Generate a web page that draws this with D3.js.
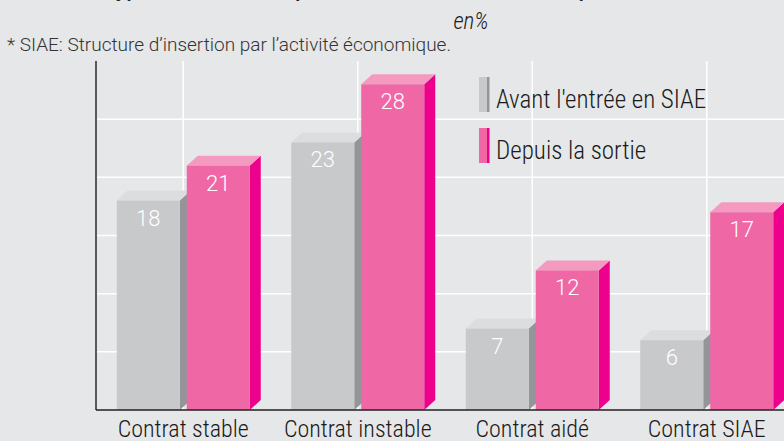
<!DOCTYPE html>
<html lang="fr">
<head>
<meta charset="UTF-8">
<script src="https://d3js.org/d3.v7.min.js"></script>
<title>Contrats</title>
<style>
  body { margin: 0; background: #e6e7e8; }
  svg { display: block; }
  .narrow { font-family: "Roboto Condensed", "Liberation Sans Narrow", "Arial Narrow", "Liberation Sans", sans-serif; font-weight: 300; }
</style>
</head>
<body>
<div id="chart"></div>
<script>
// donnees (en %)
const categories = ["Contrat stable", "Contrat instable", "Contrat aidé", "Contrat SIAE"]
const series = ["Avant l'entrée en SIAE", "Depuis la sortie"]
const avant = [18, 23, 7, 6]
const depuis = [21, 28, 12, 17]
const yTicks = [5, 10, 15, 20, 25]

const width = 784
const height = 441
const marginLeft = 96
const baseY = 410
const topY = 61
const dx = 11, dy = 10   // profondeur 3D

const colors = {
  "Avant l'entrée en SIAE": {front: "#c8c9cb", side: "#939598", top: "#dcdddf"},
  "Depuis la sortie": {front: "#f067a6", side: "#ec008c", top: "#f49ac1"}
}

let svg = d3.select("#chart").append("svg")
  .attr("width", width)
  .attr("height", height)

svg.append("rect").attr("width", width).attr("height", height).attr("fill", "#e6e7e8")

let x = d3.scaleBand()
  .domain(categories)
  .range([marginLeft, marginLeft + 4 * 174.5])
  .padding(0)

let xs = d3.scaleBand()
  .domain(series)
  .range([0, 133])
  .paddingInner(0.1)

let y = d3.scaleLinear()
  .domain([0, 30])
  .range([baseY, topY])

const groupStart = c => x(c) + (x.bandwidth() - 133) / 2

// titre (coupe en haut)
svg.append("text")
  .attr("x", 470)
  .attr("y", -3.5)
  .attr("text-anchor", "middle")
  .attr("font-family", "Liberation Sans, sans-serif")
  .attr("font-style", "italic")
  .attr("font-weight", "bold")
  .attr("font-size", 19)
  .attr("fill", "#222")
  .text("Type de contrat occupé avant l'entrée en SIAE* et depuis la sortie de la structure")

svg.append("text")
  .attr("class", "narrow")
  .attr("x", 471)
  .attr("y", 29)
  .attr("text-anchor", "middle")
  .attr("font-style", "italic")
  .attr("font-weight", 400)
  .attr("font-size", 23)
  .attr("fill", "#222")
  .text("en%")

svg.append("text")
  .attr("x", 7)
  .attr("y", 51)
  .attr("font-family", "Roboto, 'Liberation Sans', sans-serif")
  .attr("font-weight", 300)
  .attr("font-size", 19)
  .attr("fill", "#333")
  .text("* SIAE: Structure d\u2019insertion par l\u2019activité économique.")

// grille
svg.append("g")
  .selectAll("line")
  .data(yTicks)
  .join("line")
  .attr("x1", marginLeft)
  .attr("x2", width)
  .attr("y1", d => y(d))
  .attr("y2", d => y(d))
  .attr("stroke", "#fff")
  .attr("stroke-width", 1.5)

svg.append("g")
  .selectAll("line")
  .data(categories)
  .join("line")
  .attr("x1", d => x(d) + x.bandwidth() / 2)
  .attr("x2", d => x(d) + x.bandwidth() / 2)
  .attr("y1", topY)
  .attr("y2", baseY)
  .attr("stroke", "#fff")
  .attr("stroke-width", 1.5)

// barres 3D
let rows = []
categories.forEach((c, i) => {
  rows.push({cat: c, s: series[0], v: avant[i]})
  rows.push({cat: c, s: series[1], v: depuis[i]})
})

let bars = svg.append("g")
  .selectAll("g")
  .data(rows)
  .join("g")

bars.append("path")
  .attr("fill", d => colors[d.s].side)
  .attr("d", d => {
    let x1 = groupStart(d.cat) + xs(d.s) + xs.bandwidth()
    let yt = y(d.v)
    return `M${x1},${yt}L${x1 + dx},${yt - dy}L${x1 + dx},${baseY - dy}L${x1},${baseY}Z`
  })

bars.append("path")
  .attr("fill", d => colors[d.s].top)
  .attr("d", d => {
    let x0 = groupStart(d.cat) + xs(d.s)
    let x1 = x0 + xs.bandwidth()
    let yt = y(d.v)
    return `M${x0},${yt}L${x0 + dx},${yt - dy}L${x1 + dx},${yt - dy}L${x1},${yt}Z`
  })

bars.append("rect")
  .attr("fill", d => colors[d.s].front)
  .attr("x", d => groupStart(d.cat) + xs(d.s))
  .attr("y", d => y(d.v))
  .attr("width", xs.bandwidth())
  .attr("height", d => baseY - y(d.v))

bars.append("text")
  .attr("x", d => groupStart(d.cat) + xs(d.s) + xs.bandwidth() / 2)
  .attr("y", d => y(d.v) + 25)
  .attr("text-anchor", "middle")
  .attr("font-family", "Roboto, sans-serif")
  .attr("font-weight", 300)
  .attr("font-size", 22)
  .attr("fill", "#fff")
  .text(d => d.v)

// axes
svg.append("line")
  .attr("x1", marginLeft).attr("x2", marginLeft)
  .attr("y1", topY).attr("y2", baseY)
  .attr("stroke", "#58595b").attr("stroke-width", 2)

svg.append("line")
  .attr("x1", marginLeft).attr("x2", width)
  .attr("y1", baseY).attr("y2", baseY)
  .attr("stroke", "#231f20").attr("stroke-width", 1.5)

svg.append("g")
  .selectAll("text")
  .data(categories)
  .join("text")
  .attr("class", "narrow")
  .attr("x", d => x(d) + x.bandwidth() / 2)
  .attr("y", 437)
  .attr("text-anchor", "middle")
  .attr("font-size", 24)
  .attr("fill", "#1a1a1a")
  .text(d => d)

// legende
let legend = svg.append("g")
  .selectAll("g")
  .data(series)
  .join("g")
  .attr("transform", (d, i) => `translate(479,${77 + i * 51})`)

legend.append("rect")
  .attr("width", 9).attr("height", 35)
  .attr("fill", d => colors[d].front)
legend.append("rect")
  .attr("x", 8).attr("width", 2.5).attr("height", 35)
  .attr("fill", d => colors[d].side)
legend.append("text")
  .attr("class", "narrow")
  .attr("x", 17)
  .attr("y", 31)
  .attr("font-size", 25)
  .attr("fill", "#1a1a1a")
  .text(d => d)
</script>
</body>
</html>
